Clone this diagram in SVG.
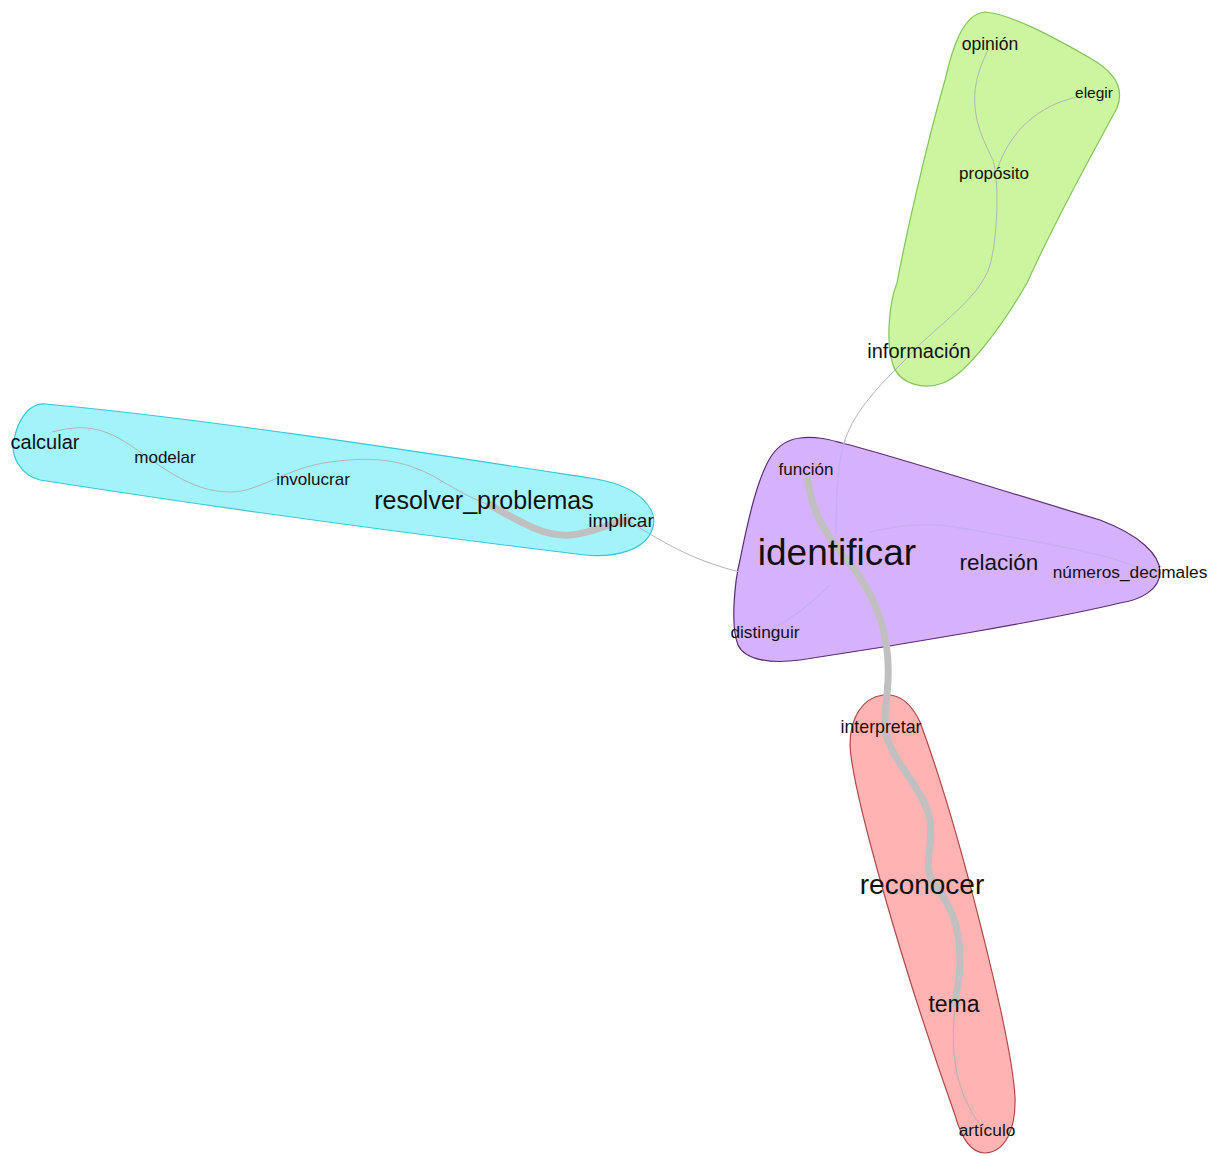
<svg xmlns="http://www.w3.org/2000/svg" width="1217" height="1156" viewBox="0 0 1217 1156">
<style>
text{font-family:"Liberation Sans",Arial,sans-serif;fill:#111;text-anchor:middle}
.hull{stroke-width:1.2}
.thin{fill:none;stroke:#b4b4b4;stroke-width:1}
.faint{fill:none;stroke:#c8aef0;stroke-width:1.5}
.thick{fill:none;stroke:#c0c0c0;stroke-width:7;stroke-linecap:round}
</style>
<rect width="1217" height="1156" fill="#fff"/>
<g id="clusters">
<path id="hull-green" class="hull" fill="#ccf5a0" stroke="#82c45a" d="M 985,12 C 1010,14 1050,35 1090,58 C 1115,72 1125,88 1117,108 C 1100,140 1060,210 1027,283 C 1000,330 965,375 943,383 C 925,390 900,385 893,365 C 885,340 890,300 897,283 C 905,240 925,150 945,80 C 952,50 962,14 985,12 Z"/>
<path id="hull-cyan" class="hull" fill="#a3f4fa" stroke="#36c6d6" d="M 45,404 C 200,418 420,452 590,478 C 640,485 660,510 652,530 C 645,550 615,558 585,555 C 420,535 200,505 40,480 C 20,475 10,455 14,440 C 18,418 30,403 45,404 Z"/>
<path id="hull-purple" class="hull" fill="#d6b2fc" stroke="#5b2d75" d="M 800,438 C 818,436 830,440 842,443 C 880,452 1000,490 1100,520 C 1140,535 1160,555 1160,572 C 1160,590 1140,600 1120,603 C 1050,620 900,645 800,660 C 770,664 745,660 738,645 C 730,625 735,580 740,560 C 748,520 758,475 772,455 C 780,444 790,439 800,438 Z"/>
<path id="hull-red" class="hull" fill="#ffb3b3" stroke="#b04848" d="M 883,695 C 862,698 850,718 850,745 C 852,790 900,960 955,1115 C 962,1140 972,1153 985,1153 C 1005,1152 1016,1130 1015,1097 C 1012,1040 960,830 920,722 C 912,705 900,693 883,695 Z"/>
</g>
<g id="connectors">
<path class="thin" d="M 988,50 C 965,95 975,125 993,160 C 1000,185 997,240 990,265 C 980,300 930,330 905,360"/>
<path class="thin" d="M 1077,97 C 1040,105 1010,130 997,170"/>
<path class="thin" d="M 905,360 C 880,385 855,410 845,440"/>
<path class="faint" d="M 845,440 C 838,460 836,500 836,535"/>
<path class="thin" d="M 52,432 C 80,425 100,425 130,445 C 160,465 190,492 230,492 C 260,492 285,468 330,462 C 380,455 410,462 440,480 C 460,492 475,500 490,505"/>
<path class="thick" d="M 490,505 C 520,522 545,537 570,535 C 595,533 610,522 628,520"/>
<path class="thin" d="M 630,522 C 660,540 690,560 740,572"/>
<path class="faint" d="M 870,532 C 900,525 930,522 960,528 C 1000,535 1060,545 1100,555 C 1120,560 1140,568 1150,572"/>
<path class="faint" d="M 830,585 C 810,605 790,620 770,630"/>
<path class="thick" d="M 808,480 C 812,520 835,545 855,570 C 880,605 890,640 888,680 C 887,700 884,715 885,730 C 890,760 925,790 930,820 C 935,850 920,865 935,885 C 950,905 960,925 960,960 C 960,985 955,995 955,1004"/>
<path class="thin" stroke="#cccccc" d="M 955,1010 C 950,1050 955,1090 980,1125"/>
</g>
<g id="n-opinion"><text x="990" y="50" font-size="17.5">opinión</text></g>
<g id="n-elegir"><text x="1094" y="98" font-size="15.5">elegir</text></g>
<g id="n-proposito"><text x="994" y="179" font-size="17">propósito</text></g>
<g id="n-informacion"><text x="919" y="358" font-size="20">información</text></g>
<g id="n-calcular"><text x="45" y="449" font-size="20">calcular</text></g>
<g id="n-modelar"><text x="165" y="463" font-size="17">modelar</text></g>
<g id="n-involucrar"><text x="313" y="485" font-size="17">involucrar</text></g>
<g id="n-resolver"><text x="484" y="509" font-size="25">resolver_problemas</text></g>
<g id="n-implicar"><text x="621" y="527" font-size="19">implicar</text></g>
<g id="n-funcion"><text x="806" y="475" font-size="17">función</text></g>
<g id="n-identificar"><text x="837" y="565" font-size="37">identificar</text></g>
<g id="n-relacion"><text x="999" y="570" font-size="22.5">relación</text></g>
<g id="n-numeros"><text x="1130" y="578" font-size="17.3">números_decimales</text></g>
<g id="n-distinguir"><text x="765" y="638" font-size="17.3">distinguir</text></g>
<g id="n-interpretar"><text x="881" y="733" font-size="17.8">interpretar</text></g>
<g id="n-reconocer"><text x="922" y="894" font-size="28">reconocer</text></g>
<g id="n-tema"><text x="954" y="1012" font-size="23">tema</text></g>
<g id="n-articulo"><text x="987" y="1136" font-size="17.3">artículo</text></g>
</svg>
